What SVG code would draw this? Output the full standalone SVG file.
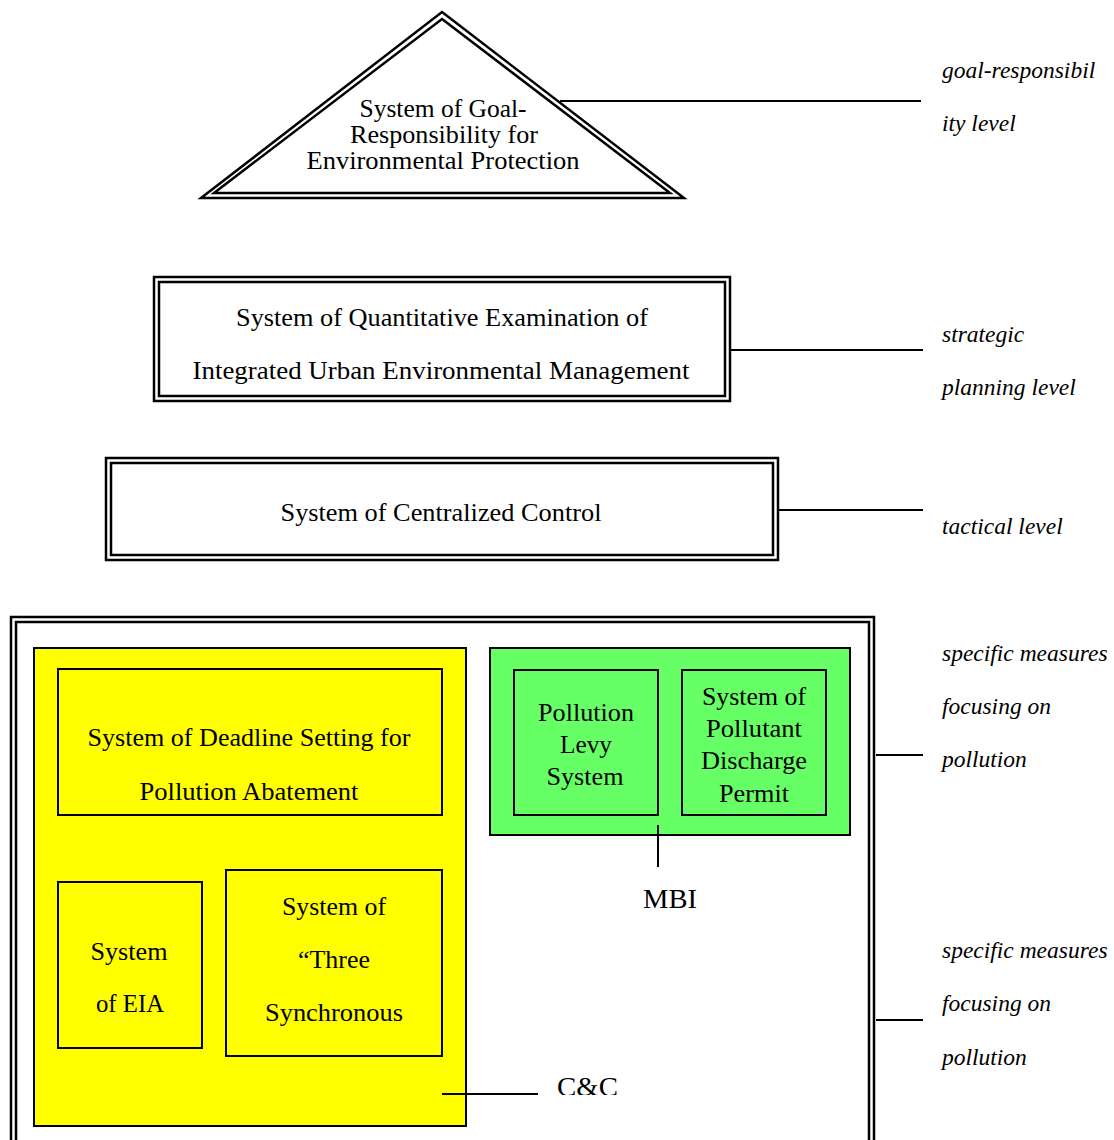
<svg xmlns="http://www.w3.org/2000/svg" width="1114" height="1140" viewBox="0 0 1114 1140">
  <defs>
    <style>
      .t { font-family: "Liberation Serif", "DejaVu Serif", serif; font-size: 24.5px; fill: #000; text-anchor: middle; }
      .lbl { font-family: "Liberation Serif", "DejaVu Serif", serif; font-size: 23.5px; font-style: italic; fill: #000; }
      .big { font-family: "Liberation Serif", "DejaVu Serif", serif; font-size: 28px; fill: #000; }
      .dbl { fill: none; stroke: #000; stroke-width: 2.5; }
      .box { stroke: #000; stroke-width: 2; }
      .ln { stroke: #000; stroke-width: 2; fill: none; }
    </style>
    <clipPath id="ccClip">
      <rect x="540" y="1060" width="100" height="35"/>
    </clipPath>
  </defs>
  <rect width="1114" height="1140" fill="#fff"/>

  <!-- goal-responsibility level -->
  <g id="goal">
    <polygon class="dbl" points="442,12 684,198 201,198"/>
    <polygon class="dbl" points="442,19 670,193 214,193"/>
    <text class="t" x="443" y="117" textLength="167" lengthAdjust="spacingAndGlyphs">System of Goal-</text>
    <text class="t" x="444" y="143" textLength="188" lengthAdjust="spacingAndGlyphs">Responsibility for</text>
    <text class="t" x="443" y="169" textLength="273" lengthAdjust="spacingAndGlyphs">Environmental Protection</text>
  </g>

  <!-- strategic planning level -->
  <g id="quantitative">
    <rect class="dbl" x="154" y="277" width="576" height="124"/>
    <rect class="dbl" x="159" y="282" width="566" height="114"/>
    <text class="t" x="442" y="326" textLength="412" lengthAdjust="spacingAndGlyphs">System of Quantitative Examination of</text>
    <text class="t" x="441" y="379" textLength="497" lengthAdjust="spacingAndGlyphs">Integrated Urban Environmental Management</text>
  </g>

  <!-- tactical level -->
  <g id="centralized">
    <rect class="dbl" x="106" y="458" width="672" height="102"/>
    <rect class="dbl" x="111" y="463" width="662" height="92"/>
    <text class="t" x="441" y="521" textLength="321" lengthAdjust="spacingAndGlyphs">System of Centralized Control</text>
  </g>

  <!-- specific measures frame (open at the bottom) -->
  <g id="measures">
    <path class="dbl" d="M11,1140 V617 H874 V1140"/>
    <path class="dbl" d="M16,1140 V622 H869 V1140"/>
  </g>

  <!-- command and control group -->
  <g id="cc">
    <rect class="box" x="34" y="648" width="432" height="478" fill="#ffff00"/>
    <g id="deadline">
      <rect class="box" x="58" y="669" width="384" height="146" fill="#ffff00"/>
      <text class="t" x="249" y="746" textLength="323" lengthAdjust="spacingAndGlyphs">System of Deadline Setting for</text>
      <text class="t" x="249" y="800" textLength="219" lengthAdjust="spacingAndGlyphs">Pollution Abatement</text>
    </g>
    <g id="eia">
      <rect class="box" x="58" y="882" width="144" height="166" fill="#ffff00"/>
      <text class="t" x="129" y="960" textLength="77" lengthAdjust="spacingAndGlyphs">System</text>
      <text class="t" x="130" y="1012" textLength="68" lengthAdjust="spacingAndGlyphs">of EIA</text>
    </g>
    <g id="three">
      <rect class="box" x="226" y="870" width="216" height="186" fill="#ffff00"/>
      <text class="t" x="334" y="915" textLength="104" lengthAdjust="spacingAndGlyphs">System of</text>
      <text class="t" x="334" y="968" textLength="72" lengthAdjust="spacingAndGlyphs">“Three</text>
      <text class="t" x="334" y="1021" textLength="138" lengthAdjust="spacingAndGlyphs">Synchronous</text>
    </g>
  </g>

  <!-- market-based instruments group -->
  <g id="mbi">
    <rect class="box" x="490" y="648" width="360" height="187" fill="#66ff66"/>
    <g id="levy">
      <rect class="box" x="514" y="670" width="144" height="145" fill="#66ff66"/>
      <text class="t" x="586" y="721" textLength="96" lengthAdjust="spacingAndGlyphs">Pollution</text>
      <text class="t" x="586" y="753" textLength="52" lengthAdjust="spacingAndGlyphs">Levy</text>
      <text class="t" x="585" y="785" textLength="77" lengthAdjust="spacingAndGlyphs">System</text>
    </g>
    <g id="permit">
      <rect class="box" x="682" y="670" width="144" height="145" fill="#66ff66"/>
      <text class="t" x="754" y="705" textLength="104" lengthAdjust="spacingAndGlyphs">System of</text>
      <text class="t" x="754" y="737" textLength="96" lengthAdjust="spacingAndGlyphs">Pollutant</text>
      <text class="t" x="754" y="769" textLength="106" lengthAdjust="spacingAndGlyphs">Discharge</text>
      <text class="t" x="754" y="802" textLength="70" lengthAdjust="spacingAndGlyphs">Permit</text>
    </g>
  </g>

  <!-- connectors to level labels and group captions -->
  <g id="connectors">
    <line class="ln" x1="560" y1="101" x2="921" y2="101"/>
    <line class="ln" x1="731" y1="350" x2="923" y2="350"/>
    <line class="ln" x1="779" y1="510" x2="923" y2="510"/>
    <line class="ln" x1="876" y1="755" x2="923" y2="755"/>
    <line class="ln" x1="876" y1="1020" x2="923" y2="1020"/>
    <line class="ln" x1="658" y1="825" x2="658" y2="867"/>
    <line class="ln" x1="442" y1="1094" x2="538" y2="1094"/>
  </g>

  <!-- group captions -->
  <g id="captions">
    <text class="big" x="643" y="908" textLength="54" lengthAdjust="spacingAndGlyphs">MBI</text>
    <text class="big" x="557" y="1096" textLength="61" lengthAdjust="spacingAndGlyphs" clip-path="url(#ccClip)">C&amp;C</text>
  </g>

  <!-- level labels -->
  <g id="levels">
    <text class="lbl" x="942" y="78">goal-responsibil</text>
    <text class="lbl" x="942" y="131">ity level</text>
    <text class="lbl" x="942" y="342">strategic</text>
    <text class="lbl" x="942" y="395">planning level</text>
    <text class="lbl" x="942" y="534">tactical level</text>
    <text class="lbl" x="942" y="661">specific measures</text>
    <text class="lbl" x="942" y="714">focusing on</text>
    <text class="lbl" x="942" y="767">pollution</text>
    <text class="lbl" x="942" y="958">specific measures</text>
    <text class="lbl" x="942" y="1011">focusing on</text>
    <text class="lbl" x="942" y="1065">pollution</text>
  </g>
</svg>
